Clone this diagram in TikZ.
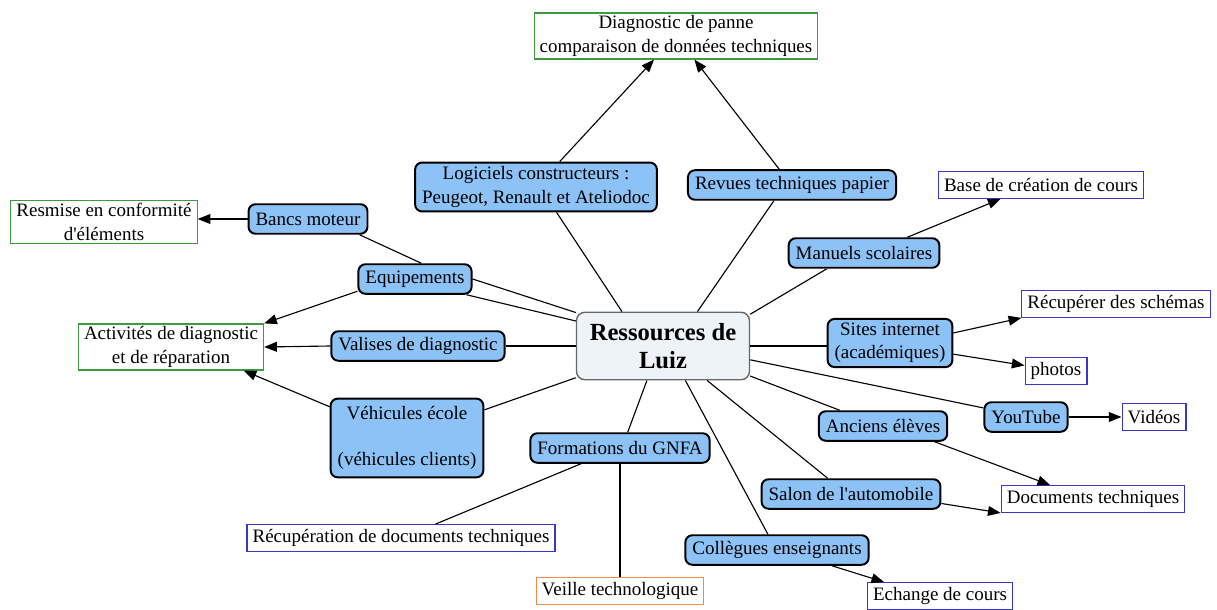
\documentclass[tikz,border=0pt]{standalone}
\usepackage{fontspec}
\setmainfont{Liberation Serif}
\usetikzlibrary{arrows.meta}

\definecolor{resblue}{RGB}{140,194,245}
\definecolor{hubfill}{RGB}{238,243,247}
\definecolor{goalgreen}{RGB}{60,155,60}
\definecolor{goalblue}{RGB}{55,55,205}
\definecolor{goalorange}{RGB}{238,140,80}

\begin{document}
\begin{tikzpicture}[x=0.025cm, y=-0.025cm,
			every node/.style={font=\fontsize{13.5}{16.5}\selectfont},
			res/.style={draw, line width=1.4pt, rounded corners=5pt, fill=resblue, inner xsep=5pt, inner ysep=3pt, minimum height=21pt, align=center},
			goal/.style={draw, line width=0.8pt, fill=white, inner xsep=4pt, inner ysep=2pt, minimum height=19pt, align=center},
			link/.style={line width=0.8pt},
			arr/.style={link, -{Triangle[length=9pt,width=7pt]}}]
			\useasboundingbox (0,0) rectangle (1217,610);
			% centre
			\node[draw=black!60, line width=1pt, rounded corners=6pt, fill=hubfill, minimum width=123pt, minimum height=48pt, align=center,
				font=\bfseries\fontsize{17.5}{20}\selectfont] (hub) at (663,346) {Ressources de\\Luiz};
			% ressources
			\node[res] (logi) at (536,187) {Logiciels constructeurs :\\Peugeot, Renault et Ateliodoc};
			\node[res] (revues) at (792,185) {Revues techniques papier};
			\node[res] (manuels) at (864,253) {Manuels scolaires};
			\node[res] (sites) at (890,343) {Sites internet\\(académiques)};
			\node[res] (youtube) at (1026,417) {YouTube};
			\node[res] (anciens) at (883,426) {Anciens élèves};
			\node[res] (salon) at (851,494) {Salon de l\textquotesingle automobile};
			\node[res] (colleg) at (777,550) {Collègues enseignants};
			\node[res] (gnfa) at (620,448) {Formations du GNFA};
			\node[res, minimum height=56pt] (vehic) at (407,438) {Véhicules école\\[16.5pt](véhicules clients)};
			\node[res] (valises) at (418,346) {Valises de diagnostic};
			\node[res] (equip) at (415,279) {Equipements};
			\node[res] (bancs) at (308,219) {Bancs moteur};
			% finalites
			\node[goal, draw=goalgreen] (diag) at (676,36) {Diagnostic de panne\\comparaison de données techniques};
			\node[goal, draw=goalgreen] (remise) at (104,222) {Resmise en conformité\\d\textquotesingle éléments};
			\node[goal, draw=goalgreen] (activ) at (171,347) {Activités de diagnostic\\et de réparation};
			\node[goal, draw=goalblue] (base) at (1041,185) {Base de création de cours};
			\node[goal, draw=goalblue] (schemas) at (1116,304) {Récupérer des schémas};
			\node[goal, draw=goalblue] (photos) at (1056,371) {photos};
			\node[goal, draw=goalblue] (videos) at (1154,417) {Vidéos};
			\node[goal, draw=goalblue] (docs) at (1093,499) {Documents techniques};
			\node[goal, draw=goalblue] (echange) at (940,596) {Echange de cours};
			\node[goal, draw=goalblue] (recupdoc) at (401,538) {Récupération de documents techniques};
			\node[goal, draw=goalorange] (veille) at (620,591) {Veille technologique};
			% liens vers le centre
			\draw[link] (hub.140) -- (logi.-51);
			\draw[link] (hub.45) -- (revues.221);
			\draw[link] (hub.20) -- (manuels.203);
			\draw[link] (hub.east) -- (sites.west |- hub.east);
			\draw[link] (hub.-9) -- (youtube.168);
			\draw[link] (hub.-19) -- (anciens.160);
			\draw[link] (hub.-38) -- (salon.146);
			\draw[link] (hub.-57) -- (colleg.120);
			\draw[link] (hub.-115) -- (gnfa.64);
			\draw[link] (hub.200) -- (vehic.20);
			\draw[link] (hub.west) -- (valises.east);
			\draw[link] (hub.159) -- (equip.0);
			\draw[link] (hub.164) -- (equip.-17);
			\draw[link] (bancs.-17) -- (equip.68);
			% fleches
			\draw[arr] (logi.47) -- (diag.227);
			\draw[arr] (revues.129) -- (diag.-52);
			\draw[arr] (bancs.west) -- (remise.east |- bancs.west);
			\draw[arr] (equip.192) -- (activ.north east);
			\draw[arr] (valises.west) -- (activ.east);
			\draw[arr] (vehic.158) -- (activ.-18);
			\draw[arr] (manuels.20) -- (base.199);
			\draw[arr] (sites.9) -- (schemas.south west);
			\draw[arr] (sites.-10) -- (photos.170);
			\draw[arr] (youtube.east) -- (videos.west);
			\draw[arr] (anciens.-17) -- (docs.162);
			\draw[arr] (salon.-6) -- (docs.south west);
			\draw[arr] (colleg.-16) -- (echange.166);
			\draw[link] (gnfa.202) -- (recupdoc.22);
			\draw[link] (gnfa.south) -- (veille.north);
		\end{tikzpicture}
\end{document}
